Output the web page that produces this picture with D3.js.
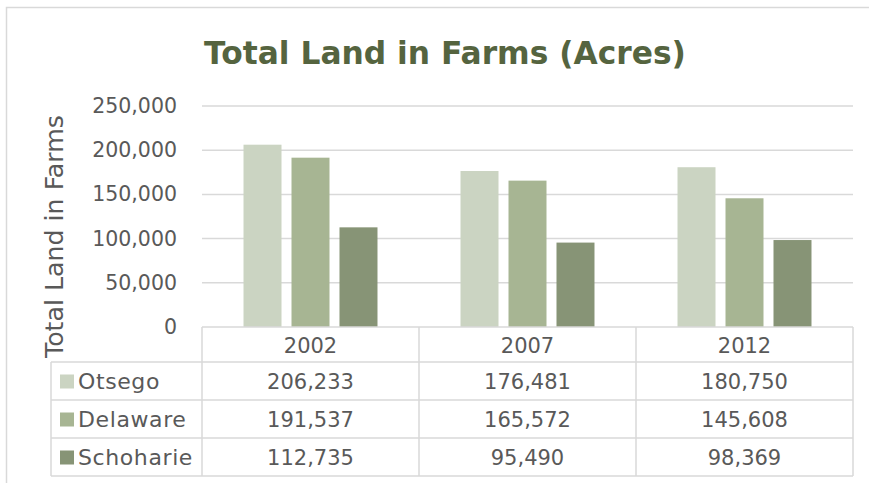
<!DOCTYPE html>
<html>
<head>
<meta charset="utf-8">
<script src="https://cdn.jsdelivr.net/npm/d3@7"></script>
<style>
  html, body { margin: 0; padding: 0; background: #ffffff; }
  svg { display: block; }
  text { font-family: "DejaVu Sans", sans-serif; }
</style>
</head>
<body>
<svg id="chart" width="869" height="483"></svg>
<script>
// Total land in farms, acres, by county and census year
const years = ["2002", "2007", "2012"];
const counties = ["Otsego", "Delaware", "Schoharie"];
const otsego = [206233, 176481, 180750];
const delaware = [191537, 165572, 145608];
const schoharie = [112735, 95490, 98369];
const yTicks = [0, 50000, 100000, 150000, 200000, 250000];
const colors = ["#cbd4c2", "#a7b593", "#879476"];

const seriesValues = [otsego, delaware, schoharie];
const rows = counties.map((c, i) => ({ name: c, values: seriesValues[i], color: colors[i] }));

const svg = d3.select("#chart");
const fmt = d3.format(",");
const gridColor = "#d9d9d9";
const textColor = "#595959";

// shrink or grow a text node's font size so it spans the given width
function fitWidth(sel, baseSize, width) {
  const w = sel.node().getComputedTextLength();
  sel.style("font-size", (baseSize * width / w).toFixed(2) + "px");
}

// chart frame
svg.append("rect")
  .attr("x", 6.5).attr("y", 7.5)
  .attr("width", 880).attr("height", 500)
  .attr("fill", "none").attr("stroke", gridColor).attr("stroke-width", 1.5);

// plot geometry
const plotLeft = 202, plotRight = 853, plotTop = 106, plotBottom = 327;

const x = d3.scaleBand().domain(years).range([plotLeft, plotRight]).paddingInner(0).paddingOuter(0);
const xs = d3.scaleBand().domain(counties).range([0, x.bandwidth()])
  .paddingInner(10 / 48).paddingOuter(0.865);
const y = d3.scaleLinear().domain([0, 250000]).range([plotBottom, plotTop]);

// gridlines
svg.append("g")
  .selectAll("line")
  .data(yTicks.filter(t => t > 0))
  .join("line")
  .attr("x1", plotLeft).attr("x2", plotRight)
  .attr("y1", d => y(d)).attr("y2", d => y(d))
  .attr("stroke", gridColor).attr("stroke-width", 1.5);

// y axis labels
const yAxis = d3.axisLeft(y).tickValues(yTicks).tickFormat(fmt).tickSize(0).tickPadding(0);
const yg = svg.append("g").attr("transform", "translate(177,0)").call(yAxis);
yg.select(".domain").remove();
yg.selectAll("text")
  .attr("fill", textColor)
  .style("font-size", "20.5px")
  .style("font-family", "'DejaVu Sans', sans-serif");

// bars
svg.append("g")
  .selectAll("g")
  .data(rows)
  .join("g")
  .attr("fill", d => d.color)
  .selectAll("rect")
  .data(d => d.values.map((v, i) => ({ year: years[i], county: d.name, value: v })))
  .join("rect")
  .attr("x", d => x(d.year) + xs(d.county))
  .attr("width", xs.bandwidth())
  .attr("y", d => y(d.value))
  .attr("height", d => y(0) - y(d.value));

// data table
const tableLeft = 51;
const rowEdges = [327, 362, 400, 438, 476];
const tbl = svg.append("g").attr("stroke", gridColor).attr("stroke-width", 1.5);

// horizontal rules
tbl.append("line").attr("x1", plotLeft).attr("x2", plotRight).attr("y1", rowEdges[0]).attr("y2", rowEdges[0]);
rowEdges.slice(1).forEach(yy => {
  tbl.append("line").attr("x1", tableLeft).attr("x2", plotRight).attr("y1", yy).attr("y2", yy);
});
// vertical rules
tbl.append("line").attr("x1", tableLeft).attr("x2", tableLeft).attr("y1", rowEdges[1]).attr("y2", rowEdges[4]);
[plotLeft, ...years.map(yr => x(yr) + x.bandwidth())].forEach(xx => {
  tbl.append("line").attr("x1", xx).attr("x2", xx).attr("y1", rowEdges[0]).attr("y2", rowEdges[4]);
});

// header: years
svg.append("g")
  .selectAll("text")
  .data(years)
  .join("text")
  .attr("x", d => x(d) + x.bandwidth() / 2)
  .attr("y", (rowEdges[0] + rowEdges[1]) / 2 + 8)
  .attr("text-anchor", "middle")
  .attr("fill", textColor)
  .style("font-size", "21px")
  .text(d => d);

// table rows
const rowG = svg.append("g")
  .selectAll("g")
  .data(rows)
  .join("g")
  .attr("transform", (d, i) => `translate(0,${(rowEdges[i + 1] + rowEdges[i + 2]) / 2})`);

rowG.append("rect")
  .attr("x", 60).attr("y", -6.5)
  .attr("width", 14).attr("height", 14)
  .attr("fill", d => d.color);

rowG.append("text")
  .attr("x", 78).attr("y", 8)
  .attr("fill", textColor)
  .style("font-size", "22px")
  .style("letter-spacing", "0.6px")
  .text(d => d.name);

rowG.selectAll("text.val")
  .data(d => d.values.map((v, i) => ({ year: years[i], value: v })))
  .join("text")
  .attr("class", "val")
  .attr("x", d => x(d.year) + x.bandwidth() / 2)
  .attr("y", 8)
  .attr("text-anchor", "middle")
  .attr("fill", textColor)
  .style("font-size", "21px")
  .text(d => fmt(d.value));

// y axis title
const axisTitle = svg.append("text")
  .attr("transform", "translate(63,236.5) rotate(-90)")
  .attr("text-anchor", "middle")
  .attr("fill", textColor)
  .style("font-size", "21px")
  .text("Total Land in Farms");
fitWidth(axisTitle, 21, 243);

// chart title
const title = svg.append("text")
  .attr("x", 445).attr("y", 64)
  .attr("text-anchor", "middle")
  .attr("fill", "#55643f")
  .style("font-size", "34px")
  .style("font-weight", "bold")
  .text("Total Land in Farms (Acres)");
fitWidth(title, 34, 482);
</script>
</body>
</html>
